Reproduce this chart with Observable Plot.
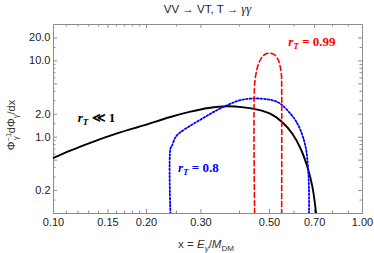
<!DOCTYPE html>
<html><head><meta charset="utf-8">
<script src="https://cdn.jsdelivr.net/npm/d3@7"></script>
<script src="https://cdn.jsdelivr.net/npm/@observablehq/plot@0.6"></script>
<style>body{margin:0;background:#fff;} svg{display:block}</style>
</head><body><div id="chart"></div>
<script>
// ---- data ----
const blackX = [0.1, 0.1133, 0.1315, 0.1606, 0.1958, 0.2390, 0.2776, 0.3175, 0.3650, 0.4131, 0.4565, 0.5043, 0.5504, 0.5930, 0.6308, 0.6633, 0.6886, 0.7077];
const blackY = [0.536, 0.665, 0.845, 1.12, 1.43, 1.84, 2.16, 2.41, 2.54, 2.46, 2.30, 2.02, 1.57, 1.11, 0.706, 0.406, 0.223, 0.1];

const blueX = [0.2390, 0.2390, 0.2420, 0.2481, 0.2575, 0.2776, 0.3064, 0.3344, 0.3650, 0.4031, 0.4508, 0.4920, 0.5169, 0.5435, 0.5855, 0.6077, 0.6308, 0.6548, 0.6662, 0.6712, 0.6712];
const blueY = [0.1, 0.706, 0.779, 1.0, 1.16, 1.42, 1.80, 2.21, 2.63, 3.07, 3.22, 3.13, 3.01, 2.73, 2.02, 1.65, 1.22, 0.741, 0.406, 0.202, 0.1];

const redX = [0.4477, 0.4477, 0.4543, 0.4622, 0.4740, 0.4858, 0.5017, 0.5169, 0.5301, 0.5393, 0.5463, 0.5475, 0.5475];
const redY = [0.1, 4.97, 7.41, 9.50, 11.28, 12.34, 12.6, 12.2, 10.85, 9.06, 6.71, 4.97, 0.1];

const xTicks = [0.10, 0.15, 0.20, 0.30, 0.50, 0.70, 1.00];
const xMinorTicks = [0.11, 0.12, 0.13, 0.14, 0.16, 0.17, 0.18, 0.19, 0.25, 0.4, 0.6, 0.8, 0.9];
const yTicks = [0.2, 0.5, 1, 2, 5, 10, 20];
const yMinorTicks = [0.15, 0.3, 0.4, 0.6, 0.7, 0.8, 0.9, 1.5, 3, 4, 6, 7, 8, 9, 15, 30];

const labelNames = ["black", "blue", "red"];
const labelX = [0.1202, 0.2537, 0.5768];
const labelY = [1.75, 0.391, 17.2];

// ---- build ----
const rows = (xs, ys) => xs.map((x, i) => ({x, y: ys[i]}));
const W = 374, H = 253, mL = 53, mR = 12, mT = 24, mB = 40;
const fw = W - mL - mR, fh = H - mT - mB;
const tickCol = "#8c8c8c";
const sans = "Liberation Sans, Arial, Helvetica, sans-serif";
const serif = "Liberation Serif, Times New Roman, serif";

const plot = Plot.plot({
  width: W, height: H,
  marginLeft: mL, marginRight: mR, marginTop: mT, marginBottom: mB,
  style: {fontFamily: sans, fontSize: "11px", color: "#222", background: "#fff"},
  x: {type: "log", domain: [0.1, 1]},
  y: {type: "log", domain: [0.1, 30]},
  marks: [
    Plot.ruleX(xTicks, {x: d => d, stroke: tickCol, insetTop: fh - 4}),
    Plot.ruleX(xTicks, {x: d => d, stroke: tickCol, insetBottom: fh - 4}),
    Plot.ruleX(xMinorTicks, {x: d => d, stroke: tickCol, insetTop: fh - 2.5}),
    Plot.ruleX(xMinorTicks, {x: d => d, stroke: tickCol, insetBottom: fh - 2.5}),
    Plot.ruleY(yTicks, {y: d => d, stroke: tickCol, insetRight: fw - 4}),
    Plot.ruleY(yTicks, {y: d => d, stroke: tickCol, insetLeft: fw - 4}),
    Plot.ruleY(yMinorTicks, {y: d => d, stroke: tickCol, insetRight: fw - 2.5}),
    Plot.ruleY(yMinorTicks, {y: d => d, stroke: tickCol, insetLeft: fw - 2.5}),
    Plot.frame({stroke: tickCol}),
    Plot.axisX({ticks: xTicks, tickSize: 0, tickPadding: 5, tickFormat: d3.format(".2f"), label: null}),
    Plot.axisY({ticks: yTicks, tickSize: 0, tickPadding: 3, tickFormat: d3.format(".1f"), label: null}),
    Plot.line(rows(blackX, blackY), {x: "x", y: "y", stroke: "black", strokeWidth: 1.9, curve: "catmull-rom", clip: true}),
    Plot.line(rows(blueX, blueY), {x: "x", y: "y", stroke: "#0000ff", strokeWidth: 1.8, strokeDasharray: "1.6,2", curve: "catmull-rom", clip: true}),
    Plot.line(rows(redX, redY), {x: "x", y: "y", stroke: "#ff0000", strokeWidth: 1.6, strokeDasharray: "5,3", curve: "catmull-rom", clip: true})
  ]
});
document.getElementById("chart").appendChild(plot);

const svg = d3.select(plot);
const sx = plot.scale("x"), sy = plot.scale("y");

// title
const t = svg.append("text").attr("x", mL + fw / 2).attr("y", 13).attr("text-anchor", "middle")
  .attr("font-family", sans).attr("font-size", 11.5).attr("fill", "#222");
t.append("tspan").text("VV \u2192 VT, T \u2192 ");
t.append("tspan").attr("font-family", serif).attr("font-style", "italic").attr("font-size", 12.5).text("\u03b3\u03b3");

// x title
const xt = svg.append("text").attr("x", 206).attr("y", 248).attr("text-anchor", "middle")
  .attr("font-family", sans).attr("font-size", 11.5).attr("fill", "#333");
xt.append("tspan").text("x = ");
xt.append("tspan").attr("font-style", "italic").text("E");
xt.append("tspan").attr("font-style", "italic").attr("font-size", 8).attr("dy", 3).text("\u03b3");
xt.append("tspan").attr("dy", -3).text("/");
xt.append("tspan").attr("font-style", "italic").text("M");
xt.append("tspan").attr("font-size", 8).attr("dy", 3).text("DM");

// y title
const yt = svg.append("text").attr("transform", "translate(15,125) rotate(-90)").attr("text-anchor", "middle")
  .attr("font-family", sans).attr("font-size", 11).attr("fill", "#333");
yt.append("tspan").text("\u03a6");
yt.append("tspan").attr("font-size", 7.5).attr("dy", -4).text("\u22121");
yt.append("tspan").attr("font-size", 7.5).attr("dx", -7).attr("dy", 7).text("\u03b3");
yt.append("tspan").attr("dx", 3).attr("dy", -3).text("d\u03a6");
yt.append("tspan").attr("font-size", 7.5).attr("dy", 3).text("\u03b3");
yt.append("tspan").attr("dy", -3).text("/dx");

// curve labels
const labelColors = {black: "#000", blue: "#0000ff", red: "#ff0000"};
const labelTails = {black: " \u226a 1", blue: " = 0.8", red: " = 0.99"};
labelNames.forEach((n, i) => {
  const g = svg.append("text").attr("x", sx.apply(labelX[i])).attr("y", sy.apply(labelY[i]) + 4)
    .attr("text-anchor", "start")
    .attr("font-family", serif).attr("font-weight", "bold")
    .attr("font-size", 13).attr("fill", labelColors[n]);
  g.append("tspan").attr("font-style", "italic").text("r");
  g.append("tspan").attr("font-style", "italic").attr("font-size", 9).attr("dy", 3).text("T");
  g.append("tspan").attr("dy", -3).text(labelTails[n]);
});
</script>
</body></html>
